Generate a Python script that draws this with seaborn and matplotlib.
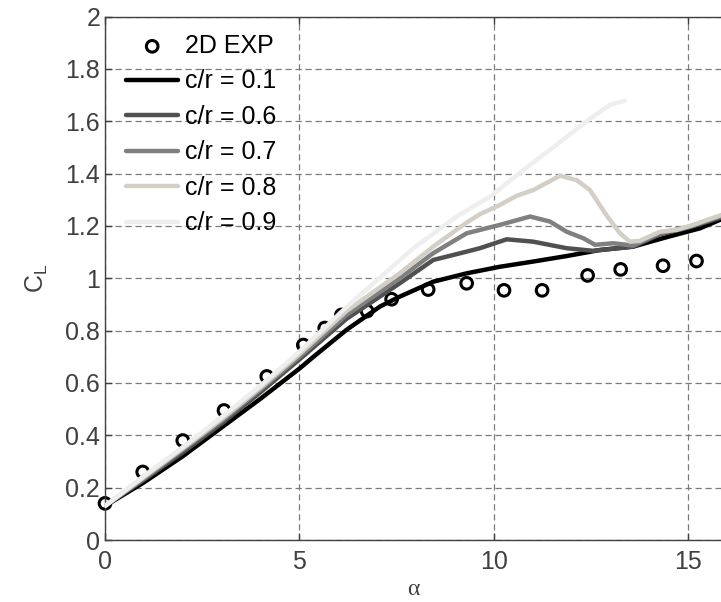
import numpy as np
import pandas as pd
import matplotlib
matplotlib.use("Agg")
import matplotlib.pyplot as plt
import seaborn as sns

# experimental points (2D EXP)
alpha_exp = [0.0, 0.97, 2.0, 3.06, 4.16, 5.1, 5.65, 6.08, 6.74, 7.37, 8.31, 9.3,
             10.26, 11.24, 12.41, 13.26, 14.35, 15.21]
cl_exp = [0.14, 0.26, 0.38, 0.495, 0.625, 0.745, 0.81, 0.86, 0.875, 0.92, 0.957, 0.981,
          0.954, 0.954, 1.011, 1.034, 1.048, 1.066]

# computed curves, one per c/r
alpha_01 = [0, 1, 2, 3, 4, 5, 5.36, 6.21, 7.07, 7.58, 8.44, 9.3, 10.15, 11.01, 11.87,
            12.72, 13.58, 14.44, 15.3, 16.0]
cl_01 = [0.13, 0.22, 0.32, 0.43, 0.54, 0.655, 0.70, 0.803, 0.892, 0.93, 0.987, 1.019,
         1.044, 1.064, 1.085, 1.108, 1.121, 1.157, 1.191, 1.235]

alpha_06 = [0, 1, 2, 3, 4, 5, 6.21, 7.58, 8.44, 9.3, 9.64, 10.33, 11.01, 11.87, 12.55,
            13.58, 14.27, 15.04, 16.0]
cl_06 = [0.13, 0.23, 0.335, 0.445, 0.565, 0.69, 0.845, 0.981, 1.07, 1.102, 1.115, 1.149,
         1.14, 1.115, 1.105, 1.121, 1.168, 1.195, 1.24]

alpha_07 = [0, 1, 2, 3, 4, 5, 6.21, 7.58, 8.44, 9.3, 10.15, 10.93, 11.44, 11.87, 12.3,
            12.6, 13.07, 13.58, 14.27, 15.04, 16.0]
cl_07 = [0.13, 0.235, 0.345, 0.455, 0.575, 0.70, 0.86, 1.0, 1.096, 1.172, 1.204, 1.236,
         1.217, 1.178, 1.153, 1.128, 1.134, 1.125, 1.172, 1.198, 1.245]

alpha_08 = [0, 1, 2, 3, 4, 5, 6.21, 7.58, 8.44, 9.3, 9.64, 10.15, 10.58, 11.01, 11.7,
            12.13, 12.47, 12.9, 13.24, 13.5, 13.75, 14.27, 14.7, 15.12, 16.0]
cl_08 = [0.13, 0.24, 0.35, 0.462, 0.582, 0.71, 0.875, 1.019, 1.121, 1.213, 1.245, 1.28,
         1.315, 1.337, 1.392, 1.375, 1.337, 1.24, 1.172, 1.14, 1.143, 1.178, 1.185, 1.204, 1.25]

alpha_09 = [0, 1, 2, 3, 4, 5, 6.21, 7.93, 9.04, 9.9, 10.76, 11.61, 12.38, 12.98, 13.37]
cl_09 = [0.13, 0.245, 0.355, 0.47, 0.59, 0.72, 0.89, 1.115, 1.236, 1.312, 1.414, 1.51,
         1.6, 1.662, 1.679]

labels = ["c/r = 0.1", "c/r = 0.6", "c/r = 0.7", "c/r = 0.8", "c/r = 0.9"]
colors = ["#000000", "#505050", "#808080", "#d3cfc7", "#eeeeee"]

curves = [(alpha_01, cl_01), (alpha_06, cl_06), (alpha_07, cl_07),
          (alpha_08, cl_08), (alpha_09, cl_09)]

sns.set_theme(style="white")
plt.rcParams["font.family"] = ["Liberation Sans", "DejaVu Sans"]

fig = plt.figure(figsize=(7.21, 6.02), dpi=100)
ax = fig.add_axes([105 / 721, 62 / 602, 616 / 721, 523.4 / 602])

exp_df = pd.DataFrame({"alpha": alpha_exp, "CL": cl_exp})
sns.scatterplot(data=exp_df, x="alpha", y="CL", ax=ax, marker="o", s=70,
                facecolor="none", edgecolor="black", linewidth=2.2,
                label="2D EXP", zorder=2, clip_on=False)

for (a, c), lab, col in zip(curves, labels, colors):
    df = pd.DataFrame({"alpha": a, "CL": c})
    sns.lineplot(data=df, x="alpha", y="CL", ax=ax, color=col, lw=3.2,
                 label=lab, estimator=None, zorder=3)

ax.set_xlim(0, 15.84)
ax.set_ylim(0, 2)
ax.set_xticks([0, 5, 10, 15])
ax.set_yticks(np.arange(0, 2.01, 0.2))
ax.set_yticklabels(["0", "0.2", "0.4", "0.6", "0.8", "1", "1.2", "1.4", "1.6", "1.8", "2"])

ax.grid(True, color="#7a7a7a", lw=0.9, ls=(0, (5, 3)))
ax.set_axisbelow(True)
for side in ["left", "bottom", "top"]:
    ax.spines[side].set_color("#404040")
    ax.spines[side].set_linewidth(1.0)
ax.spines["right"].set_visible(False)
ax.tick_params(direction="in", length=5, width=1, color="#404040",
               labelcolor="#404040", labelsize=18, top=True, left=True, bottom=True)
ax.tick_params(axis="x", pad=7)

ax.set_xlabel("α", family=["Liberation Serif", "DejaVu Serif"], fontsize=17,
              color="#404040", labelpad=4)
ax.set_ylabel(r"C$_\mathregular{L}$", fontsize=18, color="#404040", labelpad=11)

leg = ax.legend(loc="upper left", bbox_to_anchor=(0.034, 0.967), frameon=False,
                fontsize=18, handlelength=2.1, handletextpad=0.25, labelspacing=0.46,
                borderpad=0, borderaxespad=0)
for t in leg.get_texts():
    t.set_color("black")

fig.savefig("out.png", dpi=100)
